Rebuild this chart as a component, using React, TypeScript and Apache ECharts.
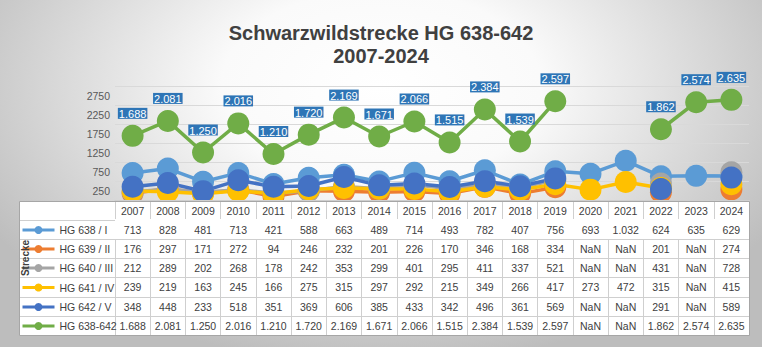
import React, { useEffect, useRef } from "react";
import * as echarts from "echarts";

const years = ["2007","2008","2009","2010","2011","2012","2013","2014","2015","2016","2017","2018","2019","2020","2021","2022","2023","2024"];
const N = NaN;
const hg638 = [713, 828, 481, 713, 421, 588, 663, 489, 714, 493, 782, 407, 756, 693, 1032, 624, 635, 629];
const hg639 = [176, 297, 171, 272, 94, 246, 232, 201, 226, 170, 346, 168, 334, N, N, 201, N, 274];
const hg640 = [212, 289, 202, 268, 178, 242, 353, 299, 401, 295, 411, 337, 521, N, N, 431, N, 728];
const hg641 = [239, 219, 163, 245, 166, 275, 315, 297, 292, 215, 349, 266, 417, 273, 472, 315, N, 415];
const hg642 = [348, 448, 233, 518, 351, 369, 606, 385, 433, 342, 496, 361, 569, N, N, 291, N, 589];
const total = [1688, 2081, 1250, 2016, 1210, 1720, 2169, 1671, 2066, 1515, 2384, 1539, 2597, N, N, 1862, 2574, 2635];

const seriesNames = ["HG 638 / I", "HG 639 / II", "HG 640 / III", "HG 641 / IV", "HG 642 / V", "HG 638-642"];
const seriesData = [hg638, hg639, hg640, hg641, hg642, total];
const seriesColors = ["#5B9BD5", "#ED7D31", "#A5A5A5", "#FFC000", "#4472C4", "#70AD47"];

const yTickLabels = [250, 750, 1250, 1750, 2250, 2750];

const fmt = (n: number) => {
  if (n === null || n === undefined || Number.isNaN(n)) return "NaN";
  if (n >= 1000) return Math.floor(n / 1000) + "." + String(n % 1000).padStart(3, "0");
  return String(n);
};

const FONT = "Liberation Sans, Arial, sans-serif";
const TXT = "#404040";
const INNER = "#cfcfcf";
const OUTER = "#a6a6a6";

export default function App() {
  const ref = useRef<HTMLDivElement>(null);
  useEffect(() => {
    if (!ref.current) return;
    const chart = echarts.init(ref.current, null, { renderer: "svg" });

    const gridLeft = 115, gridRight = 13, gridTop = 86, gridBottomY = 200;
    const rowTops = [201, 220, 239, 258, 277, 297, 316, 335];
    const tableLeft = 19;

    const rowTexts: string[][] = [years, ...seriesData.map((d) => d.map(fmt))];

    const xAxes: any[] = rowTexts.map((texts, r) => ({
      type: "category",
      data: years,
      gridIndex: 0,
      position: "bottom",
      offset: rowTops[r] - gridBottomY,
      boundaryGap: true,
      z: 20,
      axisLine: { show: true, lineStyle: { color: INNER, width: 1 } },
      axisTick: { show: true, interval: 0, length: rowTops[r + 1] - rowTops[r], lineStyle: { color: INNER, width: 1 } },
      axisLabel: {
        show: true,
        interval: 0,
        margin: (rowTops[r + 1] - rowTops[r]) / 2,
        verticalAlign: "middle",
        fontFamily: FONT,
        fontSize: 10.5,
        color: TXT,
        formatter: (_v: string, i: number) => texts[i],
      },
      splitLine: { show: false },
    }));
    xAxes.push({
      type: "category",
      data: years,
      gridIndex: 0,
      position: "bottom",
      offset: rowTops[7] - gridBottomY,
      z: 20,
      axisLine: { show: true, lineStyle: { color: INNER } },
      axisTick: { show: false },
      axisLabel: { show: false },
    });

    const leftColLines: any[] = rowTops.map((y) => ({
      type: "line",
      z: 25,
      shape: { x1: tableLeft, y1: y + 0.5, x2: gridLeft, y2: y + 0.5 },
      style: { stroke: INNER, lineWidth: 1 },
    }));

    const legends = seriesNames.map((name, i) => ({
      orient: "vertical",
      left: 21,
      top: (rowTops[i + 1] + rowTops[i + 2]) / 2 - 5,
      padding: 0,
      itemWidth: 32,
      itemHeight: 10,
      z: 30,
      selectedMode: false,
      lineStyle: { width: 3 },
      textStyle: { fontFamily: FONT, fontSize: 10.5, color: TXT },
      data: [name],
    }));

    chart.setOption({
      animation: false,
      title: {
        text: "Schwarzwildstrecke HG 638-642\n2007-2024",
        left: "center",
        top: 21,
        padding: 0,
        textStyle: { fontFamily: FONT, fontSize: 20, fontWeight: "bold", color: "#404040", lineHeight: 23 },
      },
      legend: legends,
      grid: { left: gridLeft, right: gridRight, top: gridTop, height: gridBottomY - gridTop, containLabel: false },
      xAxis: xAxes,
      yAxis: [
        {
          type: "value",
          min: 0,
          max: 3000,
          interval: 500,
          axisLine: { show: false },
          axisTick: { show: false },
          axisLabel: { show: false },
          splitLine: { show: true, lineStyle: { color: "#d9d9d9", width: 1 } },
        },
        {
          type: "value",
          min: 0,
          max: 3000,
          interval: 250,
          position: "left",
          axisLine: { show: false },
          axisTick: { show: false },
          splitLine: { show: false },
          axisLabel: {
            margin: 5,
            fontFamily: FONT,
            fontSize: 10.5,
            color: "#595959",
            formatter: (v: number) => (yTickLabels.indexOf(v) >= 0 ? String(v) : ""),
          },
        },
      ],
      series: seriesData.map((d, i) => ({
        name: seriesNames[i],
        type: "line",
        xAxisIndex: 0,
        yAxisIndex: 0,
        data: d.map((v) => (Number.isNaN(v) ? null : v)),
        connectNulls: false,
        symbol: "circle",
        symbolSize: 22,
        showSymbol: true,
        color: seriesColors[i],
        itemStyle: { color: seriesColors[i] },
        lineStyle: { color: seriesColors[i], width: 3.5 },
        emphasis: { disabled: true },
        label: i === 5
          ? {
              show: true,
              position: "top",
              distance: 6,
              formatter: (p: any) => fmt(p.value),
              color: "#ffffff",
              backgroundColor: "#2E75B6",
              padding: [1, 1, 0, 1],
              fontFamily: FONT,
              fontSize: 11,
              lineHeight: 10,
            }
          : { show: false },
      })),
      graphic: [
        {
          type: "rect",
          z: 10,
          shape: { x: tableLeft, y: rowTops[0], width: 749 - tableLeft, height: rowTops[7] - rowTops[0] },
          style: { fill: "#ffffff" },
        },
        ...leftColLines,
        {
          type: "rect",
          z: 26,
          shape: { x: tableLeft + 0.5, y: rowTops[0] + 0.5, width: 749 - tableLeft, height: rowTops[7] - rowTops[0] },
          style: { fill: "none", stroke: OUTER, lineWidth: 1 },
        },
        {
          type: "text",
          z: 40,
          x: 25,
          y: 258,
          rotation: Math.PI / 2,
          style: {
            text: "Strecke",
            fontFamily: FONT,
            fontSize: 10,
            fontWeight: "bold",
            fill: "#404040",
            align: "center",
            verticalAlign: "middle",
          },
        },
      ],
    });
    return () => chart.dispose();
  }, []);
  return (
    <div
      ref={ref}
      style={{
        position: "absolute",
        left: 0,
        top: 0,
        width: 762,
        height: 347,
        background: "radial-gradient(ellipse 60% 80% at 50% 25%, #ffffff 0%, #fafafa 35%, #bdbdbd 100%)",
      }}
    />
  );
}
